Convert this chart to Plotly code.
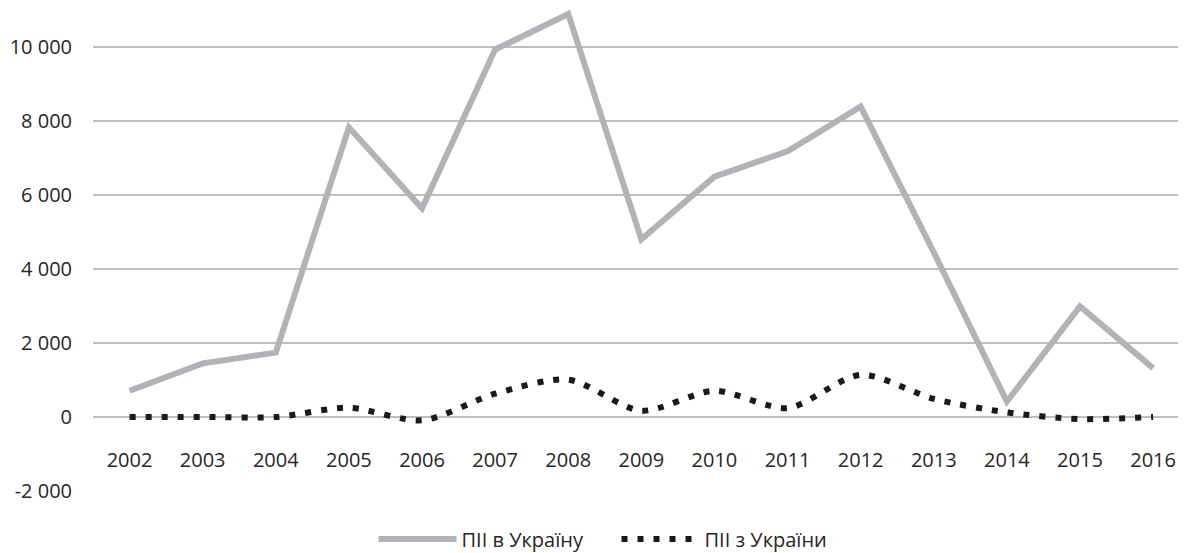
import plotly.graph_objects as go

years = ["2002", "2003", "2004", "2005", "2006", "2007", "2008", "2009",
         "2010", "2011", "2012", "2013", "2014", "2015", "2016"]
fdi_in = [710, 1450, 1740, 7830, 5640, 9930, 10890, 4800,
          6495, 7180, 8390, 4450, 415, 2990, 1320]
fdi_out = [0, 0, 0, 250, -90, 630, 1010, 170,
           710, 240, 1140, 490, 125, -55, 0]
name_in = "ПІІ в Україну"
name_out = "ПІІ з України"
y_tickvals = [-2000, 0, 2000, 4000, 6000, 8000, 10000]
y_ticktext = ["-2 000", "0", "2 000", "4 000", "6 000", "8 000", "10 000"]

FONT = "Open Sans"
TXT = "#262626"
GRID = "#bfbfbf"

fig = go.Figure()
fig.add_trace(go.Scatter(
    x=list(range(len(years))), y=fdi_in, name=name_in, mode="lines",
    line=dict(color="#b2b3b6", width=6),
))
fig.add_trace(go.Scatter(
    x=list(range(len(years))), y=fdi_out, name=name_out, mode="lines",
    line=dict(color="#1a1a1a", width=6, dash="6px,10px", shape="spline", smoothing=0.8),
))

ymin, ymax = -2000, 11054
zero_pos = (0 - ymin) / (ymax - ymin)

fig.update_layout(
    width=1178, height=570,
    margin=dict(l=85, r=0, t=0, b=87),
    paper_bgcolor="white", plot_bgcolor="white",
    font=dict(family=FONT, size=20, color=TXT),
    showlegend=True,
    legend=dict(orientation="h", x=0.479, xanchor="center", y=-0.0994, yanchor="middle",
                font=dict(size=20, color=TXT), itemwidth=78, entrywidth=150,
                traceorder="normal"),
    xaxis=dict(
        range=[-0.5, 14.45], tickmode="array",
        tickvals=list(range(len(years))), ticktext=years,
        showgrid=False, zeroline=False, showline=False, ticks="",
        anchor="free", position=zero_pos, ticklabelstandoff=29,
        tickfont=dict(size=20, color=TXT),
    ),
    yaxis=dict(
        range=[ymin, ymax], tickmode="array",
        tickvals=y_tickvals, ticktext=y_ticktext,
        showgrid=True, gridcolor=GRID, gridwidth=1.5,
        zeroline=True, zerolinecolor=GRID, zerolinewidth=1.5,
        showline=False, ticks="", ticklabelstandoff=20,
        tickfont=dict(size=20, color=TXT),
    ),
)

fig.write_html("out.html")
